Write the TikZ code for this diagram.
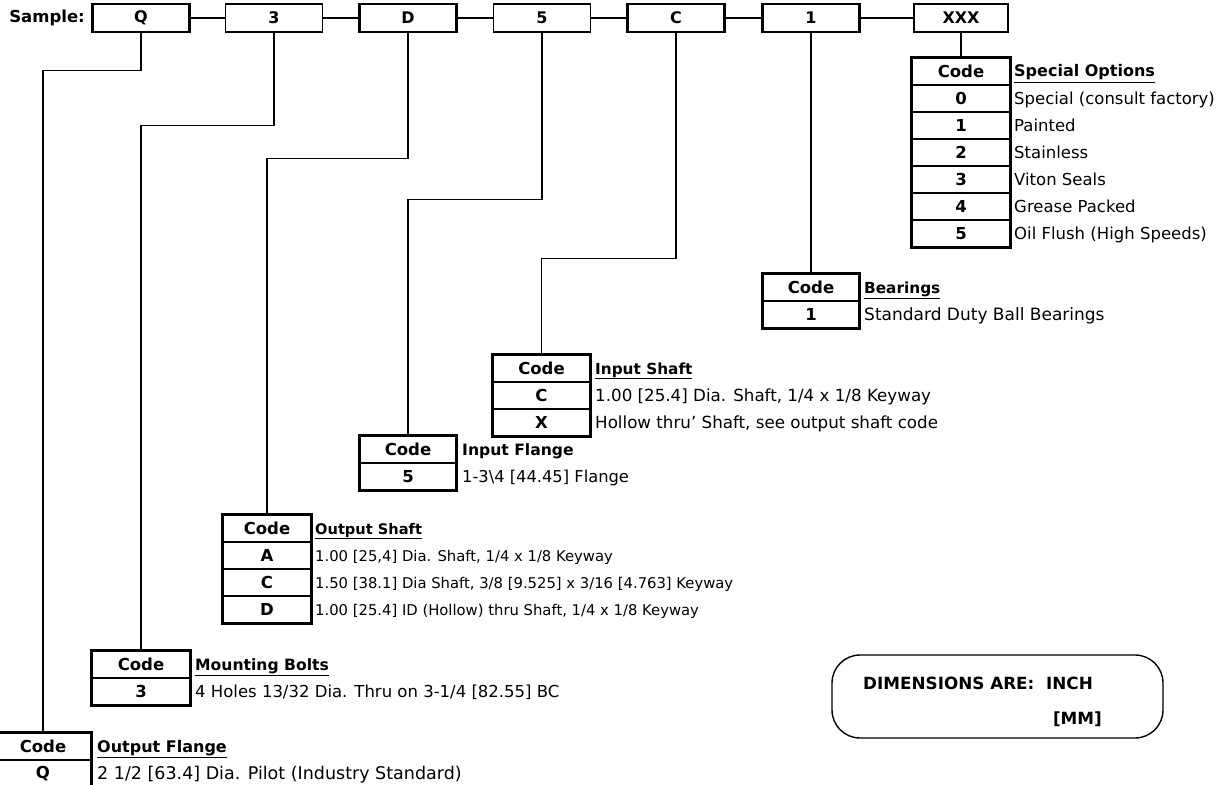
\documentclass[tikz,border=0pt]{standalone}
\usepackage{fontspec}
\setmainfont{DejaVu Sans}
\newcommand\dfs[1]{\fontsize{#1}{#1}\selectfont}
\tikzset{
  topbox/.style={draw, line width=2.6pt, minimum width=97pt, minimum height=28pt, inner sep=0pt, font=\dfs{16}\bfseries},
  topthin/.style={topbox, line width=1.4pt},
  cell/.style={draw, line width=1.4pt, minimum width=96pt, minimum height=27pt, inner sep=0pt, font=\dfs{16.5}\bfseries},
  desc/.style={anchor=base west, inner sep=0pt, font=\dfs{16.5}},
  ttl/.style={anchor=base west, inner sep=0pt, font=\dfs{15.3}\bfseries},
  conn/.style={line width=1.5pt},
  outer/.style={line width=3pt}
}
\begin{document}
\begin{tikzpicture}[x=1pt,y=-1pt]
\useasboundingbox (0,0) rectangle (1228,784);
% top row
\node[ttl, anchor=east, font=\dfs{16.5}\bfseries] (sample) at (85,18) {Sample:};
\node[topbox]  (bQ) at (141,18) {Q};
\node[topthin] (b3) at (274,18) {3};
\node[topbox]  (bD) at (408,18) {D};
\node[topthin] (b5) at (542,18) {5};
\node[topbox]  (bC) at (676,18) {C};
\node[topbox]  (b1) at (811,18) {1};
\node[topbox, minimum width=94pt] (bX) at (961,18) {XXX};
\draw[conn] (bQ.east) -- (b3.west);
\draw[conn] (b3.east) -- (bD.west);
\draw[conn] (bD.east) -- (b5.west);
\draw[conn] (b5.east) -- (bC.west);
\draw[conn] (bC.east) -- (b1.west);
\draw[conn] (b1.east) -- (bX.west);

% Special Options
\node[cell, minimum width=98pt] (so0) at (961,71.5) {Code};
\node[cell, minimum width=98pt] (so1) at (961,98.5) {0};
\node[cell, minimum width=98pt] (so2) at (961,125.5) {1};
\node[cell, minimum width=98pt] (so3) at (961,152.5) {2};
\node[cell, minimum width=98pt] (so4) at (961,179.5) {3};
\node[cell, minimum width=98pt] (so5) at (961,206.5) {4};
\node[cell, minimum width=98pt] (so6) at (961,233.5) {5};
\draw[outer] (so0.north west) rectangle (so6.south east);
\node[ttl, font=\dfs{16}\bfseries] (sot) at (1014,77) {\underline{Special Options}};
\node[desc] (sod1) at (1014,104) {Special (consult factory)};
\node[desc] (sod2) at (1014,131) {Painted};
\node[desc] (sod3) at (1014,158) {Stainless};
\node[desc] (sod4) at (1014,185) {Viton Seals};
\node[desc] (sod5) at (1014,212) {Grease Packed};
\node[desc] (sod6) at (1014,239) {Oil Flush (High Speeds)};

% Bearings
\node[cell] (be0) at (811,287.5) {Code};
\node[cell] (be1) at (811,314.5) {1};
\draw[outer] (be0.north west) rectangle (be1.south east);
\node[ttl] (bet) at (864,293) {\underline{Bearings}};
\node[desc, font=\dfs{17}] (bed1) at (864,320.5) {Standard Duty Ball Bearings};

% Input Shaft
\node[cell] (is0) at (541.5,368.5) {Code};
\node[cell] (is1) at (541.5,395.5) {C};
\node[cell] (is2) at (541.5,422.5) {X};
\draw[outer] (is0.north west) rectangle (is2.south east);
\node[ttl] (ist) at (595,374) {\underline{Input Shaft}};
\node[desc, font=\dfs{16.7}] (isd1) at (595,401) {1.00 [25.4] Dia. Shaft, 1/4 x 1/8 Keyway};
\node[desc, font=\dfs{16.7}] (isd2) at (595,428) {Hollow thru' Shaft, see output shaft code};

% Input Flange
\node[cell] (if0) at (408,449.5) {Code};
\node[cell] (if1) at (408,476.5) {5};
\draw[outer] (if0.north west) rectangle (if1.south east);
\node[ttl, font=\dfs{15.6}\bfseries] (ift) at (462,455) {Input Flange};
\node[desc, font=\dfs{16.3}] (ifd1) at (462,482) {1-3\textbackslash4 [44.45] Flange};

% Output Shaft
\node[cell, minimum width=88pt] (os0) at (267,528.5) {Code};
\node[cell, minimum width=88pt] (os1) at (267,555.5) {A};
\node[cell, minimum width=88pt] (os2) at (267,582.5) {C};
\node[cell, minimum width=88pt] (os3) at (267,609.5) {D};
\draw[outer] (os0.north west) rectangle (os3.south east);
\node[ttl, font=\dfs{14.6}\bfseries] (ost) at (315,534) {\underline{Output Shaft}};
\node[desc, font=\dfs{14.8}] (osd1) at (315,561) {1.00 [25,4] Dia. Shaft, 1/4 x 1/8 Keyway};
\node[desc, font=\dfs{14.8}] (osd2) at (315,588) {1.50 [38.1] Dia Shaft, 3/8 [9.525] x 3/16 [4.763] Keyway};
\node[desc, font=\dfs{14.8}] (osd3) at (315,615) {1.00 [25.4] ID (Hollow) thru Shaft, 1/4 x 1/8 Keyway};

% Mounting Bolts
\node[cell, minimum width=98pt] (mb0) at (141,664.5) {Code};
\node[cell, minimum width=98pt] (mb1) at (141,691.5) {3};
\draw[outer] (mb0.north west) rectangle (mb1.south east);
\node[ttl, font=\dfs{15.6}\bfseries] (mbt) at (195,670) {\underline{Mounting Bolts}};
\node[desc] (mbd1) at (195,697) {4 Holes 13/32 Dia. Thru on 3-1/4 [82.55] BC};

% Output Flange
\node[cell] (of0) at (43,746.5) {Code};
\node[cell] (of1) at (43,773.5) {Q};
\draw[outer] (of0.north west) rectangle (of1.south east);
\node[ttl, font=\dfs{16}\bfseries] (oft) at (97,752) {\underline{Output Flange}};
\node[desc, font=\dfs{17.5}] (ofd1) at (97,779) {2 1/2 [63.4] Dia. Pilot (Industry Standard)};

% connectors
\draw[conn] (bQ.south) -- ++(0,37) -| (of0.north);
\draw[conn] (b3.south) -- ++(0,93) -| (mb0.north);
\draw[conn] (bD.south) -- ++(0,125) -| (os0.north);
\draw[conn] (b5.south) -- ++(0,167) -| (if0.north);
\draw[conn] (bC.south) -- ++(0,225) -| (is0.north);
\draw[conn] (b1.south) -- (be0.north);
\draw[conn] (bX.south) -- (so0.north);

% dimensions box
\node[draw, line width=1.4pt, rounded corners=28pt, minimum width=331pt, minimum height=83pt] (dim) at (997.5,696.5) {};
\node[ttl, font=\dfs{16.8}\bfseries] (dim1) at (863,689) {DIMENSIONS ARE:\ \ INCH};
\node[ttl, font=\dfs{16.8}\bfseries, anchor=base east] (dim2) at (1102,724) {[MM]};
\end{tikzpicture}
\end{document}
